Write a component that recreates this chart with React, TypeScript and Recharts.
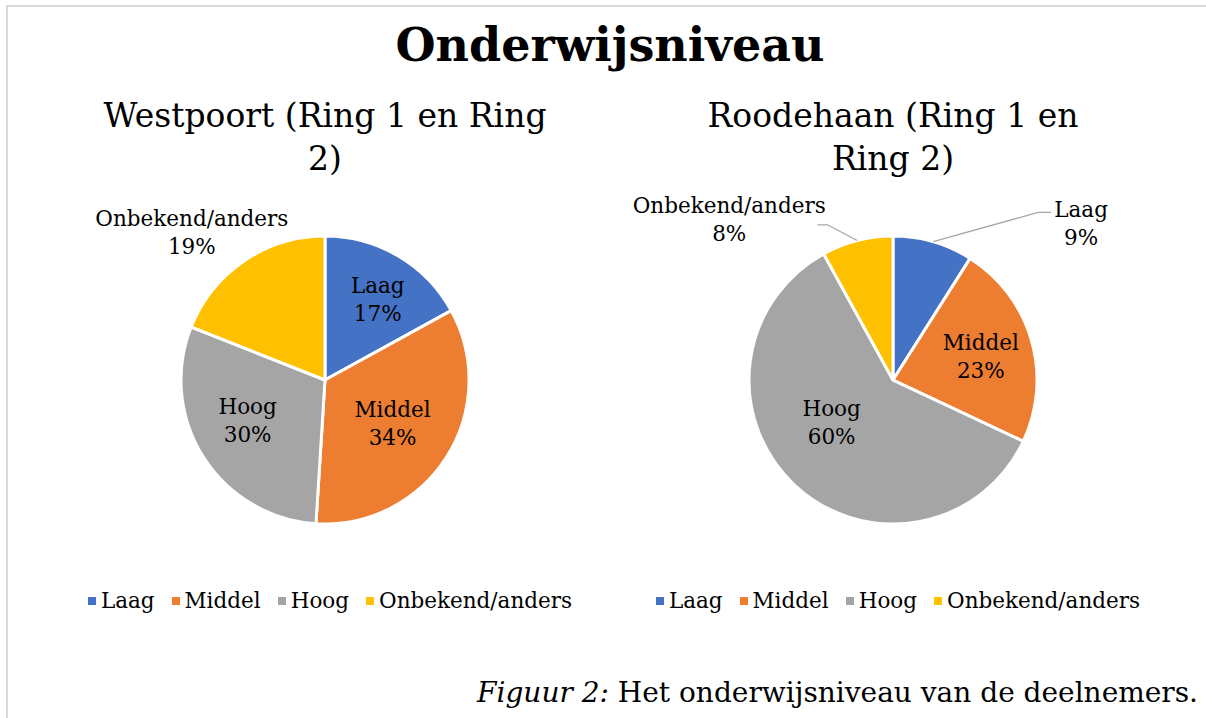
import React from "react";
import { PieChart, Pie, Cell, Legend } from "recharts";

// data
const categories = ["Laag", "Middel", "Hoog", "Onbekend/anders"];
const westpoortValues = [17, 34, 30, 19];
const roodehaanValues = [9, 23, 60, 8];
const colors = ["#4472C4", "#ED7D31", "#A5A5A5", "#FFC000"];

const FONT = "'DejaVu Serif', serif";

type LabelSpot = { r: number; shift: number; line?: { r: number; shift: number; tail: number } };

// where the data labels sit (radius factor + angle shift in degrees, clockwise)
const westLabelSpots: LabelSpot[] = [
  { r: 0.68, shift: 2 },
  { r: 0.55, shift: -1 },
  { r: 0.6, shift: 6 },
  { r: 1.39, shift: -7.5 },
];
const roodLabelSpots: LabelSpot[] = [
  { r: 1.71, shift: 33.6, line: { r: 1.54, shift: 24.7, tail: 13 } },
  { r: 0.635, shift: 0 },
  { r: 0.51, shift: 13.5 },
  { r: 1.6, shift: -30.9, line: { r: 1.17, shift: -8.5, tail: -10 } },
];

const polar = (cx: number, cy: number, d: number, theta: number) => {
  const t = (theta * Math.PI) / 180;
  return { x: cx + d * Math.sin(t), y: cy - d * Math.cos(t) };
};

const makeLabel = (spots: LabelSpot[]) => (props: any) => {
  const { cx, cy, midAngle, outerRadius, index, name, percent } = props;
  const spot = spots[index];
  const theta = 90 - midAngle;
  const p = polar(cx, cy, outerRadius * spot.r, theta + spot.shift);
  let line = null;
  if (spot.line) {
    const a = polar(cx, cy, outerRadius, theta);
    const b = polar(cx, cy, outerRadius * spot.line.r, theta + spot.line.shift);
    line = (
      <polyline
        points={`${a.x},${a.y} ${b.x},${b.y} ${b.x + spot.line.tail},${b.y}`}
        fill="none"
        stroke="#A6A6A6"
        strokeWidth={1.3}
      />
    );
  }
  return (
    <g>
      {line}
      <text x={p.x} y={p.y} textAnchor="middle" fontFamily={FONT} fontSize={21.5} fill="#000">
        <tspan x={p.x} y={p.y - 12} dominantBaseline="central">{name}</tspan>
        <tspan x={p.x} y={p.y + 16} dominantBaseline="central">{`${Math.round(percent * 100)}%`}</tspan>
      </text>
    </g>
  );
};

const LegendRow = ({ payload }: any) => {
  const items = [...(payload || [])].sort(
    (a: any, b: any) => categories.indexOf(a.value) - categories.indexOf(b.value)
  );
  return (
    <div style={{ display: "flex", justifyContent: "center", alignItems: "center", fontFamily: FONT, fontSize: 21.5, color: "#000" }}>
      {items.map((e: any, i: number) => (
        <span key={i} style={{ display: "inline-flex", alignItems: "center", marginRight: i < items.length - 1 ? 17 : 0 }}>
          <span style={{ width: 8, height: 8, background: e.color, display: "inline-block", marginRight: 5 }} />
          {e.value}
        </span>
      ))}
    </div>
  );
};

const SinglePie = ({ values, spots, left }: { values: number[]; spots: LabelSpot[]; left: number }) => {
  const data = categories.map((name, i) => ({ name, value: values[i] }));
  return (
    <div style={{ position: "absolute", left, top: 80 }}>
      <PieChart width={570} height={560} margin={{ top: 0, right: 0, bottom: 0, left: 0 }}>
        <Pie
          data={data}
          dataKey="value"
          nameKey="name"
          cx={280}
          cy={300}
          outerRadius={144}
          startAngle={90}
          endAngle={-270}
          stroke="#fff"
          strokeWidth={3}
          label={makeLabel(spots)}
          labelLine={false}
          isAnimationActive={false}
        >
          {data.map((_, i) => (
            <Cell key={i} fill={colors[i]} />
          ))}
        </Pie>
        <Legend content={<LegendRow />} wrapperStyle={{ position: "absolute", top: 508, left: 0, width: 570, height: 26 }} />
      </PieChart>
    </div>
  );
};

const Subtitle = ({ lines, cx }: { lines: string[]; cx: number }) => (
  <div
    style={{
      position: "absolute",
      left: cx - 280,
      top: 94,
      width: 560,
      textAlign: "center",
      fontFamily: FONT,
      fontSize: 33,
      lineHeight: "43px",
      color: "#000",
    }}
  >
    {lines.map((l, i) => (
      <div key={i}>{l}</div>
    ))}
  </div>
);

export default function App() {
  return (
    <div style={{ position: "absolute", left: 0, top: 0, width: 1206, height: 718, overflow: "hidden", background: "#fff" }}>
      <div
        style={{
          position: "absolute",
          left: 6,
          top: 5,
          width: 1400,
          height: 900,
          borderLeft: "2px solid #D9D9D9",
          borderTop: "2px solid #D9D9D9",
        }}
      />
      <div
        style={{
          position: "absolute",
          left: 0,
          top: 16,
          width: 1220,
          textAlign: "center",
          fontFamily: FONT,
          fontWeight: "bold",
          fontSize: 46,
          lineHeight: "58px",
          color: "#000",
        }}
      >
        Onderwijsniveau
      </div>
      <Subtitle lines={["Westpoort (Ring 1 en Ring", "2)"]} cx={325} />
      <Subtitle lines={["Roodehaan (Ring 1 en", "Ring 2)"]} cx={893} />
      <SinglePie values={westpoortValues} spots={westLabelSpots} left={45} />
      <SinglePie values={roodehaanValues} spots={roodLabelSpots} left={613} />
      <div
        style={{
          position: "absolute",
          right: 8,
          top: 673,
          fontFamily: FONT,
          fontSize: 28,
          lineHeight: "40px",
          color: "#000",
          whiteSpace: "nowrap",
        }}
      >
        <i>Figuur 2:</i> Het onderwijsniveau van de deelnemers.
      </div>
    </div>
  );
}
